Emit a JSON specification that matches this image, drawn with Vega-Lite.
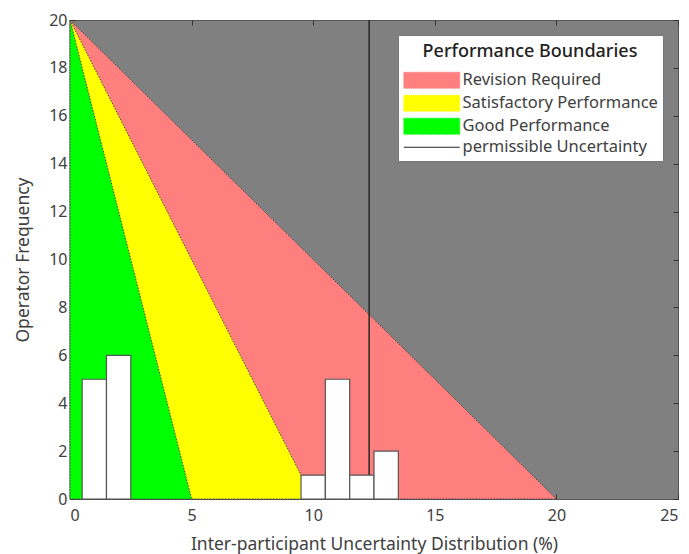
{
  "$schema": "https://vega.github.io/schema/vega-lite/v6.json",
  "width": 608,
  "height": 479,
  "autosize": "none",
  "padding": {"left": 70, "top": 20, "right": 11, "bottom": 55},
  "background": "white",
  "config": {
    "font": "Noto Sans",
    "view": {"fill": "#808080", "stroke": "#555555", "strokeWidth": 1},
    "axis": {
      "grid": false,
      "domain": false,
      "tickColor": "#333333",
      "tickSize": -5,
      "labelColor": "#404040",
      "labelFontSize": 16,
      "titleColor": "#404040",
      "titleFontSize": 17.5,
      "titleFontWeight": "normal",
      "labelFont": "Noto Sans",
      "titleFont": "Noto Sans"
    }
  },
  "datasets": {
    "zones": [
      {"zone": "Revision Required", "x": 0, "y": 20},
      {"zone": "Revision Required", "x": 20, "y": 0},
      {"zone": "Satisfactory Performance", "x": 0, "y": 20},
      {"zone": "Satisfactory Performance", "x": 10, "y": 0},
      {"zone": "Good Performance", "x": 0, "y": 20},
      {"zone": "Good Performance", "x": 5, "y": 0}
    ],
    "bars": [
      {"x0": 0.5, "x1": 1.5, "count": 5},
      {"x0": 1.5, "x1": 2.5, "count": 6},
      {"x0": 9.5, "x1": 10.5, "count": 1},
      {"x0": 10.5, "x1": 11.5, "count": 5},
      {"x0": 11.5, "x1": 12.5, "count": 1},
      {"x0": 12.5, "x1": 13.5, "count": 2}
    ],
    "limit": [
      {"zone": "permissible Uncertainty", "x": 12.3, "y0": 0, "y1": 20}
    ]
  },
  "layer": [
    {
      "data": {"name": "zones"},
      "transform": [{"filter": "datum.zone === 'Revision Required'"}],
      "mark": {"type": "area", "stroke": "#444444", "strokeWidth": 1, "strokeDash": [1.5, 1.5], "opacity": 1},
      "encoding": {
        "x": {"field": "x", "type": "quantitative", "scale": {"domain": [0, 25], "nice": false},
              "axis": {"orient": "bottom", "values": [0, 5, 10, 15, 20, 25], "title": "Inter-participant Uncertainty Distribution (%)", "labelPadding": 13, "titlePadding": 12}},
        "y": {"field": "y", "type": "quantitative", "stack": null, "scale": {"domain": [0, 20], "nice": false},
              "axis": {"orient": "left", "values": [0, 2, 4, 6, 8, 10, 12, 14, 16, 18, 20], "title": "Operator Frequency", "labelPadding": 8, "titlePadding": 16}},
        "y2": {"datum": 0},
        "color": {
          "field": "zone",
          "type": "nominal",
          "scale": {
            "domain": ["Revision Required", "Satisfactory Performance", "Good Performance", "permissible Uncertainty"],
            "range": ["#FF7F7F", "#FFFF00", "#00FF00", "#262626"]
          },
          "legend": {
            "title": "Performance Boundaries",
            "orient": "top-right",
            "offset": 15,
            "fillColor": "white",
            "strokeColor": "#777777",
            "padding": 5,
            "titleAnchor": "middle",
            "titleFontSize": 18,
            "titleFontWeight": 500,
            "titleColor": "#222222",
            "titlePadding": 14,
            "titleLimit": 400,
            "labelFontSize": 16.5,
            "labelColor": "#404040",
            "labelFont": "Noto Sans",
            "titleFont": "Noto Sans",
            "labelLimit": 400,
            "symbolSize": 196,
            "symbolStrokeWidth": 1,
            "labelOffset": 43,
            "rowPadding": 2,
            "encoding": {
              "title": {"dy": {"value": 3}},
              "symbols": {
                "shape": {"condition": {"test": "datum.value === 'permissible Uncertainty'", "value": "M-1.07,0H6.93"}, "value": "M-1.07,-1.15H6.93V1.15H-1.07Z"},
                "stroke": {"condition": {"test": "datum.value === 'permissible Uncertainty'", "value": "#262626"}, "value": "#555555"},
                "strokeDash": {"condition": {"test": "datum.value === 'permissible Uncertainty'", "value": []}, "value": [1, 1]},
                "opacity": {"value": 1}
              }
            }
          }
        }
      }
    },
    {
      "data": {"name": "zones"},
      "transform": [{"filter": "datum.zone === 'Satisfactory Performance'"}],
      "mark": {"type": "area", "stroke": "#444444", "strokeWidth": 1, "strokeDash": [1.5, 1.5], "opacity": 1},
      "encoding": {
        "x": {"field": "x", "type": "quantitative", "axis": null},
        "y": {"field": "y", "type": "quantitative", "stack": null, "axis": null},
        "y2": {"datum": 0},
        "color": {"field": "zone", "type": "nominal", "legend": null}
      }
    },
    {
      "data": {"name": "zones"},
      "transform": [{"filter": "datum.zone === 'Good Performance'"}],
      "mark": {"type": "area", "stroke": "#444444", "strokeWidth": 1, "strokeDash": [1.5, 1.5], "opacity": 1},
      "encoding": {
        "x": {"field": "x", "type": "quantitative", "axis": null},
        "y": {"field": "y", "type": "quantitative", "stack": null, "axis": null},
        "y2": {"datum": 0},
        "color": {"field": "zone", "type": "nominal", "legend": null}
      }
    },
    {
      "data": {"name": "limit"},
      "mark": {"type": "rule", "strokeWidth": 1.5},
      "encoding": {
        "x": {"field": "x", "type": "quantitative", "axis": null},
        "y": {"field": "y0", "type": "quantitative", "axis": null},
        "y2": {"field": "y1"},
        "color": {"field": "zone", "type": "nominal", "legend": null}
      }
    },
    {
      "data": {"name": "bars"},
      "mark": {"type": "rect", "fill": "white", "stroke": "#555555", "strokeWidth": 1.2},
      "encoding": {
        "x": {"field": "x0", "type": "quantitative",
              "axis": {"orient": "top", "values": [0, 5, 10, 15, 20, 25], "labels": false, "title": null}},
        "x2": {"field": "x1"},
        "y": {"field": "count", "type": "quantitative",
              "axis": {"orient": "right", "values": [0, 2, 4, 6, 8, 10, 12, 14, 16, 18, 20], "labels": false, "title": null}},
        "y2": {"datum": 0}
      }
    }
  ],
  "resolve": {"axis": {"x": "independent", "y": "independent"}}
}
